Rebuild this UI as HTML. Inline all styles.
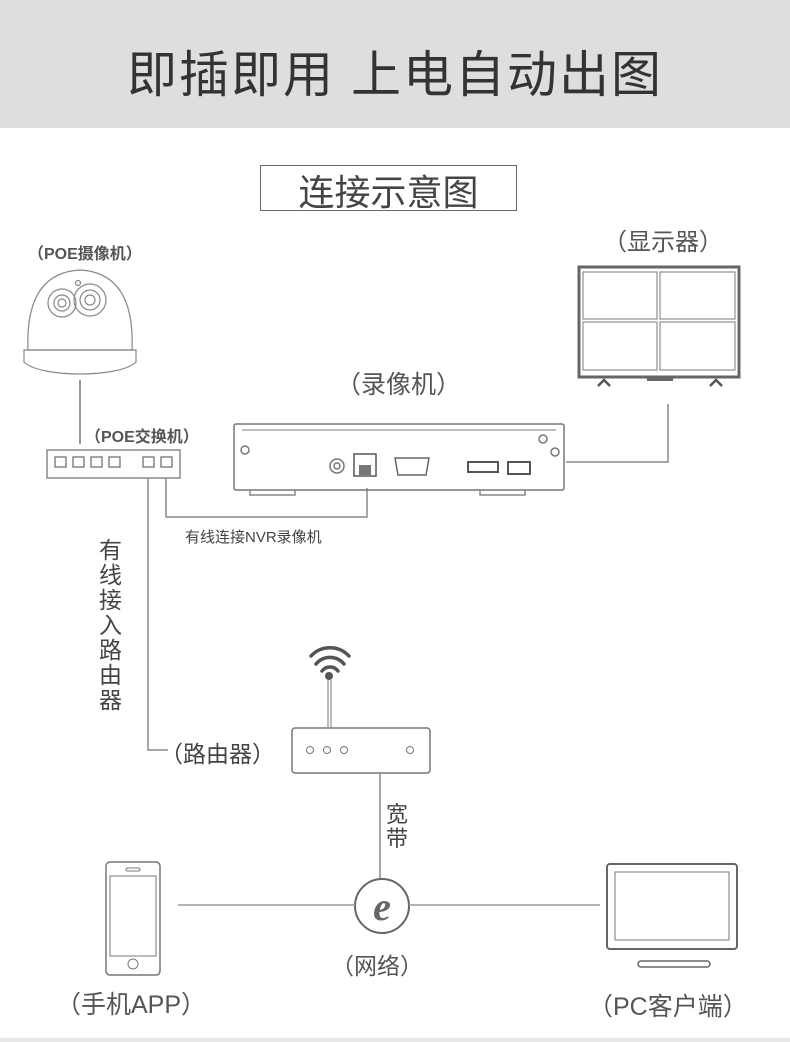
<!DOCTYPE html>
<html><head><meta charset="utf-8"><style>
html,body{margin:0;padding:0;background:#fff}
body{width:790px;height:1042px;overflow:hidden;position:relative;font-family:"Liberation Sans","Noto Sans CJK SC",sans-serif;color:#555}
.t{position:absolute;white-space:nowrap}
</style></head><body>
<div style="position:absolute;left:0;top:0;width:790px;height:128px;background:#dedede"></div>
<div class="t" style="left:0;width:790px;text-align:center;top:35px;font-size:50px;color:#333;letter-spacing:2px">即插即用 上电自动出图</div>
<div style="position:absolute;left:260px;top:165px;width:255px;height:44px;border:1.5px solid #666"></div>
<div class="t" style="left:260px;width:257px;text-align:center;top:164px;font-size:36px;color:#444">连接示意图</div>
<div class="t" style="left:28px;top:240px;font-size:16px;font-weight:bold;color:#555">（POE摄像机）</div>
<div class="t" style="left:85px;top:423px;font-size:16px;font-weight:bold;color:#555">（POE交换机）</div>
<div class="t" style="left:603px;top:222px;font-size:24px;color:#555">（显示器）</div>
<div class="t" style="left:336px;top:365px;font-size:25px;color:#555">（录像机）</div>
<div class="t" style="left:185px;top:526px;font-size:15px;color:#444">有线连接NVR录像机</div>
<div class="t" style="left:99px;top:538px;font-size:23px;line-height:25px;width:25px;white-space:normal;color:#444">有线接入路由器</div>
<div class="t" style="left:160px;top:735px;font-size:23px;color:#444">（路由器）</div>
<div class="t" style="left:386px;top:803px;font-size:22px;line-height:24px;width:24px;white-space:normal;color:#444">宽带</div>
<div class="t" style="left:331px;top:947px;font-size:23px;color:#555">（网络）</div>
<div class="t" style="left:56px;top:985px;font-size:25px;color:#555">（手机APP）</div>
<div class="t" style="left:588px;top:987px;font-size:25px;color:#555">（PC客户端）</div>
<svg width="790" height="1042" style="position:absolute;left:0;top:0" fill="none" stroke="#777" stroke-width="1.5">
<g stroke="#888" stroke-width="1.2">
<path d="M28 350 C26 300 42 272 80 270 C118 272 134 300 132 350 Z"/>
<path d="M24 350 L136 350 L136 362 C120 378 40 378 24 362 Z"/>
<circle cx="62" cy="303" r="14"/><circle cx="62" cy="303" r="8"/><circle cx="62" cy="303" r="4"/>
<circle cx="90" cy="300" r="16"/><circle cx="90" cy="300" r="10"/><circle cx="90" cy="300" r="5"/>
<circle cx="78" cy="283" r="2.5"/>
</g>
<line x1="80" y1="380" x2="80" y2="444"/>
<rect x="47" y="450" width="133" height="28" stroke="#888"/>
<g stroke="#666" stroke-width="1.2">
<rect x="55" y="457" width="11" height="10"/><rect x="73" y="457" width="11" height="10"/><rect x="91" y="457" width="11" height="10"/><rect x="109" y="457" width="11" height="10"/>
<rect x="143" y="457" width="11" height="10"/><rect x="161" y="457" width="11" height="10"/>
</g>
<polyline points="166,478 166,517 367,517 367,488" stroke="#888"/>
<polyline points="148,478 148,750 168,750" stroke="#888"/>
<rect x="234" y="424" width="330" height="66" rx="2" stroke="#777"/>
<line x1="242" y1="430" x2="556" y2="430" stroke="#aaa"/>
<path d="M250 490 l0 5 l45 0 l0 -5 M480 490 l0 5 l45 0 l0 -5" stroke="#888"/>
<circle cx="337" cy="466" r="7"/><circle cx="337" cy="466" r="3"/>
<rect x="354" y="454" width="22" height="22" stroke="#555"/><rect x="359" y="465" width="12" height="10" fill="#777" stroke="none"/>
<path d="M395 458 h34 l-3 17 h-28 z" stroke="#666"/>
<path d="M468 462 h30 v10 h-30 z" stroke="#555" stroke-width="2"/>
<rect x="508" y="462" width="22" height="12" stroke="#555" stroke-width="2"/>
<circle cx="543" cy="439" r="4"/><circle cx="245" cy="450" r="4"/><circle cx="555" cy="452" r="4"/>
<rect x="579" y="267" width="160" height="110" stroke="#666" stroke-width="3"/>
<rect x="583" y="272" width="74" height="47" stroke="#777" stroke-width="1"/>
<rect x="660" y="272" width="75" height="47" stroke="#777" stroke-width="1"/>
<rect x="583" y="322" width="74" height="48" stroke="#777" stroke-width="1"/>
<rect x="660" y="322" width="75" height="48" stroke="#777" stroke-width="1"/>
<rect x="647" y="377" width="26" height="4" fill="#666" stroke="none"/>
<path d="M598 386 l6 -6 l6 6 M710 386 l6 -6 l6 6" stroke="#555" stroke-width="2.5"/>
<polyline points="668,404 668,462 566,462" stroke="#888"/>
<path d="M311 656 a26 26 0 0 1 38 0 M316 664 a18 18 0 0 1 28 0 M322 671 a10 10 0 0 1 16 0" stroke="#555" stroke-width="3.5" stroke-linecap="round"/>
<circle cx="329" cy="676" r="4" fill="#555" stroke="none"/>
<path d="M328 680 v47 M331 680 v47" stroke="#777" stroke-width="1"/>
<rect x="292" y="728" width="138" height="45" rx="3" stroke="#777"/>
<circle cx="310" cy="750" r="3.5" stroke-width="1"/><circle cx="327" cy="750" r="3.5" stroke-width="1"/><circle cx="344" cy="750" r="3.5" stroke-width="1"/><circle cx="410" cy="750" r="3.5" stroke-width="1"/>
<line x1="380" y1="773" x2="380" y2="880" stroke="#888"/>
<circle cx="382" cy="906" r="27" stroke="#666" stroke-width="2"/>
<line x1="178" y1="905" x2="355" y2="905" stroke="#999"/>
<line x1="409" y1="905" x2="600" y2="905" stroke="#999"/>
<text x="382" y="920" font-family="Liberation Serif,serif" font-style="italic" font-weight="bold" font-size="40" fill="#666" stroke="none" text-anchor="middle">e</text>
<rect x="106" y="862" width="54" height="113" rx="4" stroke="#777"/>
<rect x="110" y="876" width="46" height="80" stroke="#777" stroke-width="1"/>
<rect x="126" y="868" width="14" height="3" rx="1.5" stroke-width="1"/>
<circle cx="133" cy="964" r="5" stroke-width="1"/>
<rect x="607" y="864" width="130" height="85" rx="3" stroke="#666" stroke-width="2"/>
<rect x="615" y="872" width="114" height="68" stroke="#777" stroke-width="1"/>
<rect x="638" y="961" width="72" height="6" rx="3" stroke="#666" stroke-width="1.5"/>
</svg>
<div style="position:absolute;left:0;top:1038px;width:790px;height:4px;background:#e8e8e8"></div>
</body></html>
